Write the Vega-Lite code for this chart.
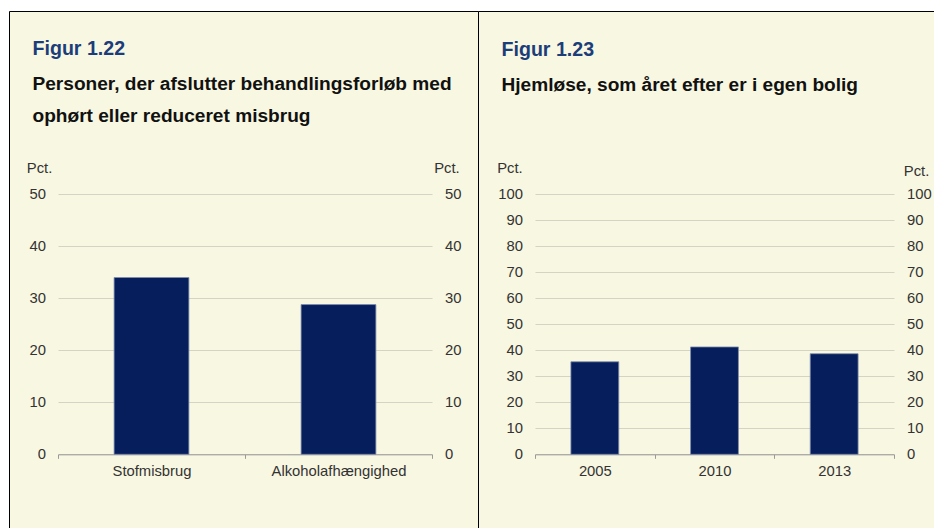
{
  "$schema": "https://vega.github.io/schema/vega-lite/v6.json",
  "background": "white",
  "padding": {"left": 8, "top": 10, "right": 0, "bottom": 0},
  "bounds": "flush",
  "spacing": 0,
  "config": {
    "view": {"fill": "#f8f7e1", "stroke": "#000000", "strokeWidth": 1},
    "font": "Liberation Sans",
    "axis": {
      "labelFont": "Liberation Sans",
      "labelFontSize": 14.8,
      "labelColor": "#333333",
      "titleFont": "Liberation Sans",
      "titleFontSize": 14.8,
      "titleFontWeight": "normal",
      "titleColor": "#333333"
    },
    "title": {
      "anchor": "start",
      "frame": "group",
      "orient": "top",
      "font": "Liberation Sans",
      "fontSize": 19.6,
      "fontWeight": "bold",
      "color": "#1b3d7a",
      "subtitleFont": "Liberation Sans",
      "subtitleFontSize": 19.1,
      "subtitleFontWeight": "bold",
      "subtitleColor": "#111111",
      "subtitleLineHeight": 32,
      "subtitlePadding": 15,
      "dx": 23.5
    }
  },
  "hconcat": [
    {
      "width": 469,
      "height": 518,
      "title": {
        "text": "Figur 1.22",
        "subtitle": ["Personer, der afslutter behandlingsforløb med", "ophørt eller reduceret misbrug"],
        "offset": -116
      },
      "data": {"values": [
        {"kategori": "Stofmisbrug", "pct": 34.0},
        {"kategori": "Alkoholafhængighed", "pct": 28.8}
      ]},
      "layer": [
        {
          "mark": {"type": "bar", "width": {"band": 0.4}, "color": "#061e5c", "stroke": "#7f8db0", "strokeWidth": 0.8},
          "encoding": {
            "x": {
              "field": "kategori", "type": "nominal", "sort": null,
              "scale": {"type": "band", "paddingInner": 0, "paddingOuter": 0, "range": [49, 423]},
              "axis": {"orient": "bottom", "offset": -74.67, "title": null, "labelAngle": 0, "tickBand": "extent", "domainColor": "#9a9a9a", "tickColor": "#9a9a9a", "tickSize": 4, "labelPadding": 5, "grid": false}
            },
            "y": {
              "field": "pct", "type": "quantitative",
              "scale": {"domain": [0, 50], "range": [443.33, 183.33], "nice": false, "zero": true},
              "axis": {"orient": "left", "offset": -49, "values": [0, 10, 20, 30, 40, 50], "title": "Pct.", "titleAngle": 0, "titleAlign": "left", "titleBaseline": "alphabetic", "titleX": -31.7, "titleY": 161.7, "domain": false, "ticks": false, "tickSize": 0, "labelPadding": 12.5, "grid": true, "gridColor": "#d5d3c3", "gridWidth": 1}
            }
          }
        },
        {
          "mark": {"type": "bar", "width": {"band": 0.4}, "opacity": 0},
          "encoding": {
            "x": {"field": "kategori", "type": "nominal", "sort": null},
            "y": {
              "field": "pct", "type": "quantitative",
              "axis": {"orient": "right", "offset": -46, "values": [0, 10, 20, 30, 40, 50], "title": "Pct.", "titleAngle": 0, "titleAlign": "left", "titleBaseline": "alphabetic", "titleX": 1.7, "titleY": 161.7, "domain": false, "ticks": false, "tickSize": 0, "labelPadding": 12.5, "grid": false}
            }
          }
        }
      ],
      "resolve": {"axis": {"y": "independent"}}
    },
    {
      "width": 457,
      "height": 518,
      "title": {
        "text": "Figur 1.23",
        "subtitle": ["Hjemløse, som året efter er i egen bolig"],
        "offset": -85
      },
      "data": {"values": [
        {"aar": "2005", "pct": 35.6},
        {"aar": "2010", "pct": 41.3},
        {"aar": "2013", "pct": 38.7}
      ]},
      "layer": [
        {
          "mark": {"type": "bar", "width": {"band": 0.4}, "color": "#061e5c", "stroke": "#7f8db0", "strokeWidth": 0.8},
          "encoding": {
            "x": {
              "field": "aar", "type": "nominal", "sort": null,
              "scale": {"type": "band", "paddingInner": 0, "paddingOuter": 0, "range": [57, 416]},
              "axis": {"orient": "bottom", "offset": -74.67, "title": null, "labelAngle": 0, "tickBand": "extent", "domainColor": "#9a9a9a", "tickColor": "#9a9a9a", "tickSize": 4, "labelPadding": 5, "grid": false}
            },
            "y": {
              "field": "pct", "type": "quantitative",
              "scale": {"domain": [0, 100], "range": [443.33, 183.33], "nice": false, "zero": true},
              "axis": {"orient": "left", "offset": -57, "values": [0, 10, 20, 30, 40, 50, 60, 70, 80, 90, 100], "title": "Pct.", "titleAngle": 0, "titleAlign": "left", "titleBaseline": "alphabetic", "titleX": -38.3, "titleY": 161.7, "domain": false, "ticks": false, "tickSize": 0, "labelPadding": 12.5, "labelOverlap": false, "grid": true, "gridColor": "#d5d3c3", "gridWidth": 1}
            }
          }
        },
        {
          "mark": {"type": "bar", "width": {"band": 0.4}, "opacity": 0},
          "encoding": {
            "x": {"field": "aar", "type": "nominal", "sort": null},
            "y": {
              "field": "pct", "type": "quantitative",
              "axis": {"orient": "right", "offset": -41, "values": [0, 10, 20, 30, 40, 50, 60, 70, 80, 90, 100], "title": "Pct.", "titleAngle": 0, "titleAlign": "left", "titleBaseline": "alphabetic", "titleX": 9.3, "titleY": 164.3, "domain": false, "ticks": false, "tickSize": 0, "labelPadding": 12.5, "labelOverlap": false, "grid": false}
            }
          }
        }
      ],
      "resolve": {"axis": {"y": "independent"}}
    }
  ]
}
